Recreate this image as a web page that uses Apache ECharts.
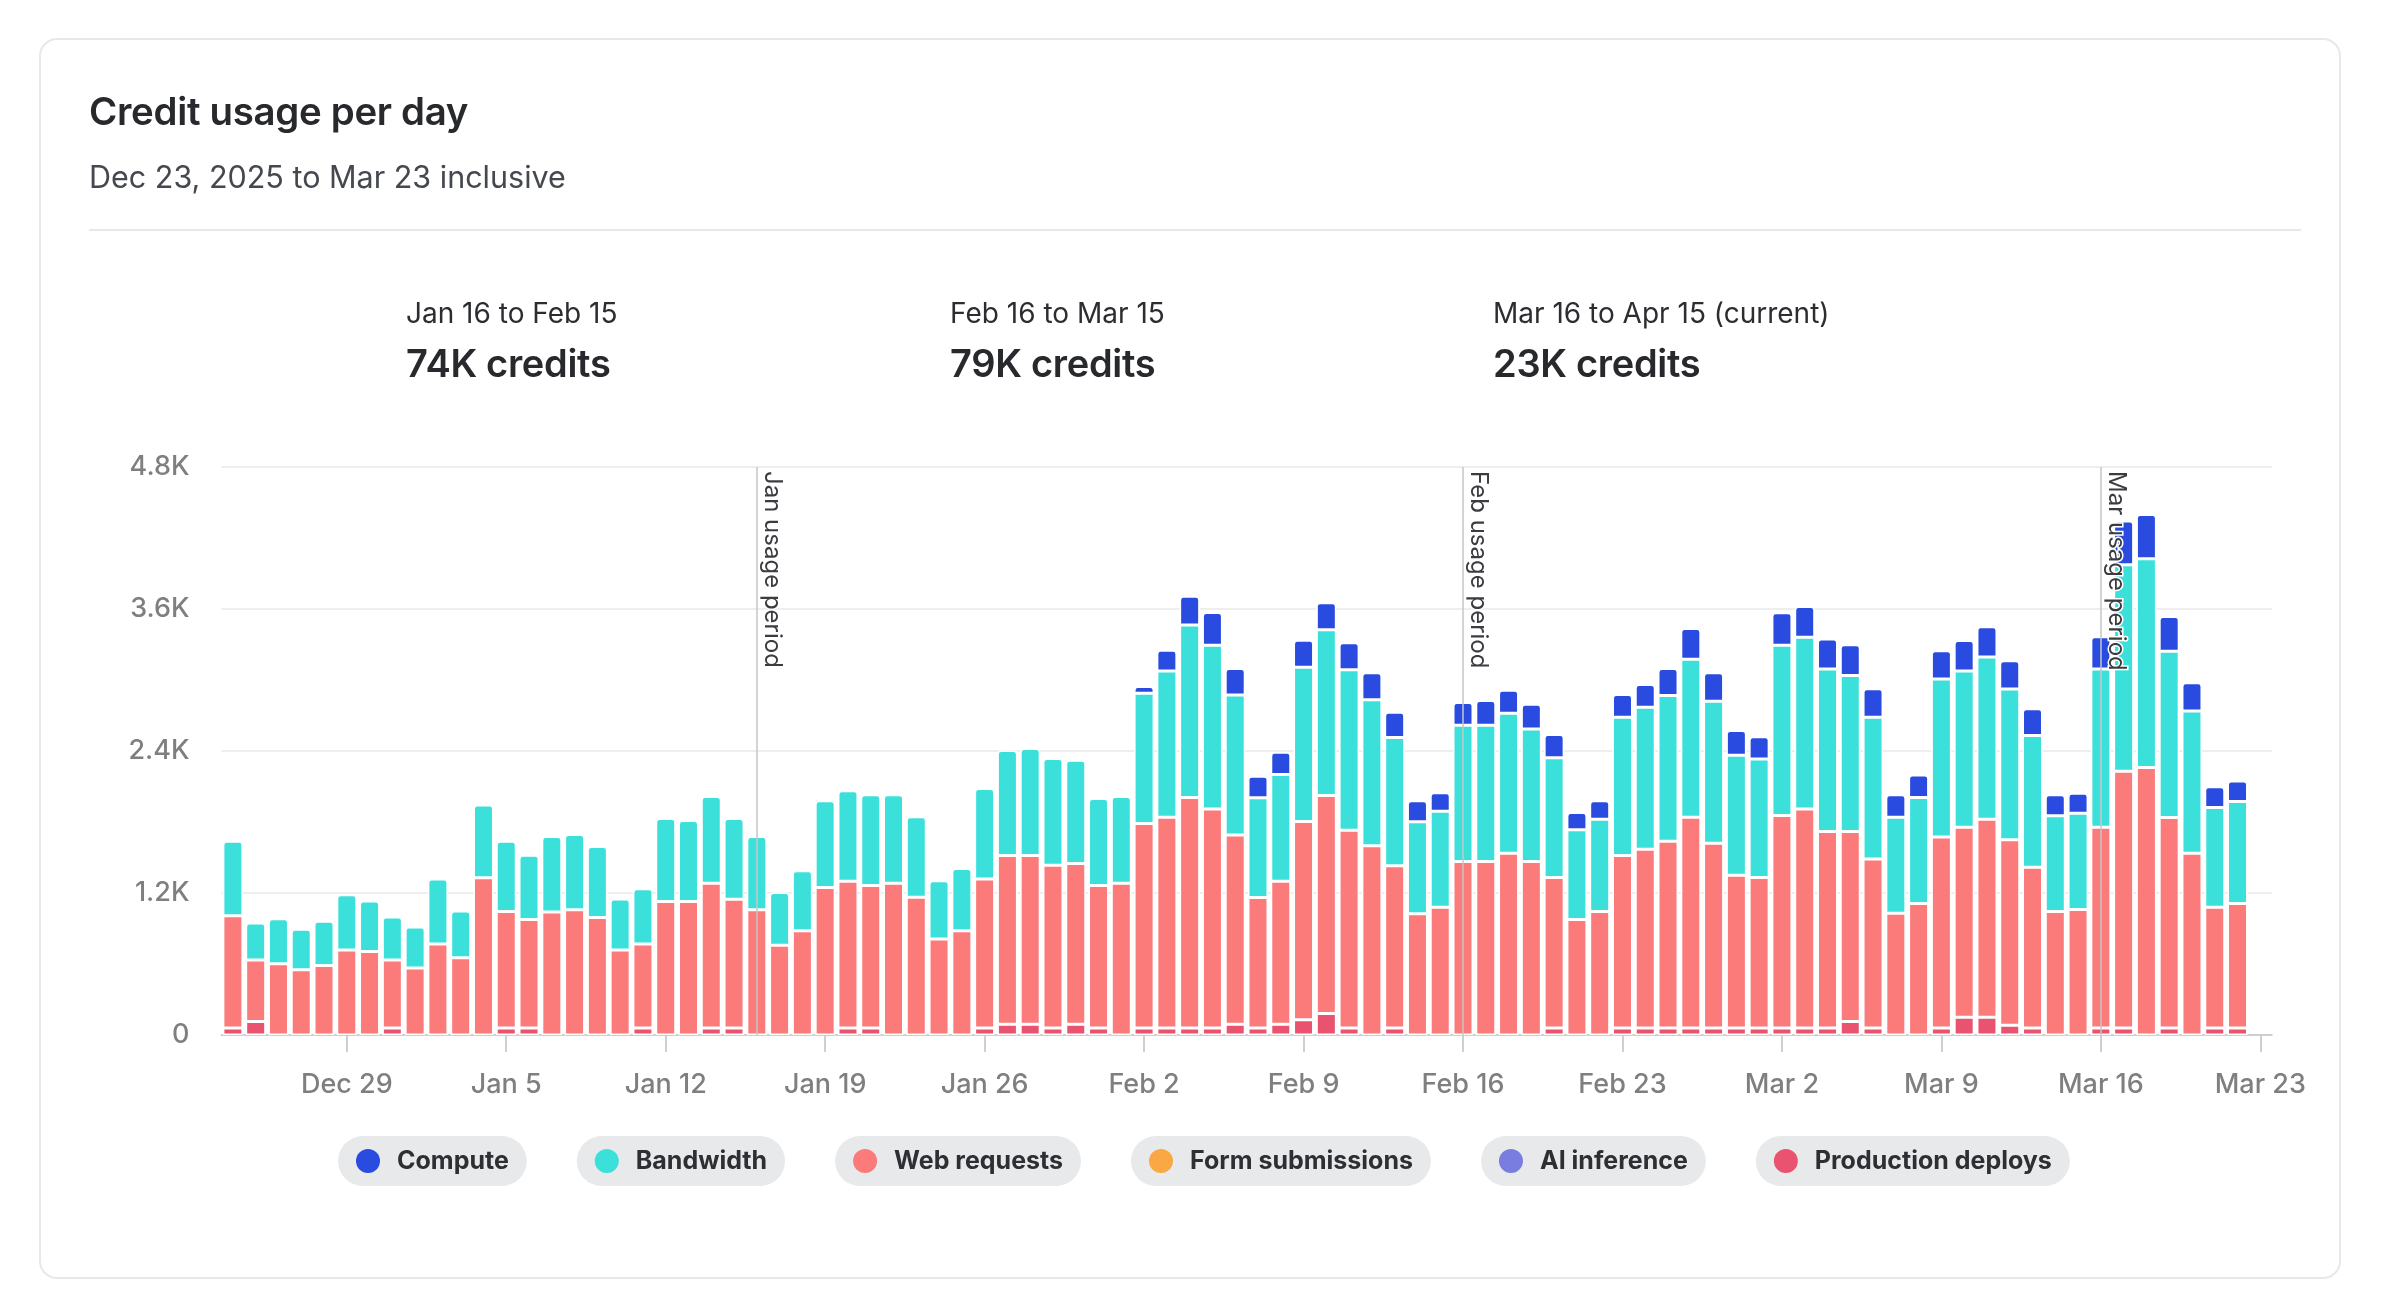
<!DOCTYPE html>
<html>
<head>
<meta charset="utf-8">
<script src="https://cdn.jsdelivr.net/npm/echarts@6/dist/echarts.min.js"></script>
<style>
html,body{margin:0;padding:0;background:#fff;}
body{width:2388px;height:1316px;position:relative;overflow:hidden;font-family:Inter,'Noto Sans',sans-serif;}
.card{position:absolute;left:39px;top:38px;width:2298px;height:1237px;border:2px solid #e8e8e8;border-radius:18px;}
.t{position:absolute;white-space:nowrap;line-height:1;z-index:3;}
#title{left:89px;top:92px;font-size:38.4px;font-weight:600;color:#27292d;letter-spacing:-0.3px;}
#sub{left:89px;top:162px;font-size:30.5px;font-weight:400;color:#45494f;}
#divider{position:absolute;left:89px;top:229px;width:2212px;height:2px;background:#e8e8e8;}
.plabel{font-size:28px;font-weight:400;color:#2b2d31;top:299px;}
.pval{font-size:38px;font-weight:600;color:#27292d;top:344px;letter-spacing:-0.3px;}
#chart{position:absolute;left:0;top:0;width:2388px;height:1316px;z-index:2;}
</style>
</head>
<body>
<div class="card"></div>
<div id="title" class="t">Credit usage per day</div>
<div id="sub" class="t">Dec 23, 2025 to Mar 23 inclusive</div>
<div id="divider"></div>
<div class="t plabel" style="left:406px">Jan 16 to Feb 15</div>
<div class="t pval" style="left:406px">74K credits</div>
<div class="t plabel" style="left:950px">Feb 16 to Mar 15</div>
<div class="t pval" style="left:950px">79K credits</div>
<div class="t plabel" style="left:1493px">Mar 16 to Apr 15 (current)</div>
<div class="t pval" style="left:1493px">23K credits</div>
<div id="chart"></div>
<script>
// ---- data ----
const categories = [
 'Dec 24','Dec 25','Dec 26','Dec 27','Dec 28','Dec 29','Dec 30','Dec 31',
 'Jan 1','Jan 2','Jan 3','Jan 4','Jan 5','Jan 6','Jan 7','Jan 8','Jan 9','Jan 10','Jan 11','Jan 12','Jan 13','Jan 14','Jan 15','Jan 16','Jan 17','Jan 18','Jan 19','Jan 20','Jan 21','Jan 22','Jan 23','Jan 24','Jan 25','Jan 26','Jan 27','Jan 28','Jan 29','Jan 30','Jan 31',
 'Feb 1','Feb 2','Feb 3','Feb 4','Feb 5','Feb 6','Feb 7','Feb 8','Feb 9','Feb 10','Feb 11','Feb 12','Feb 13','Feb 14','Feb 15','Feb 16','Feb 17','Feb 18','Feb 19','Feb 20','Feb 21','Feb 22','Feb 23','Feb 24','Feb 25','Feb 26','Feb 27','Feb 28',
 'Mar 1','Mar 2','Mar 3','Mar 4','Mar 5','Mar 6','Mar 7','Mar 8','Mar 9','Mar 10','Mar 11','Mar 12','Mar 13','Mar 14','Mar 15','Mar 16','Mar 17','Mar 18','Mar 19','Mar 20','Mar 21','Mar 22','Mar 23'
];
const xTickLabels = ['Dec 29','Jan 5','Jan 12','Jan 19','Jan 26','Feb 2','Feb 9','Feb 16','Feb 23','Mar 2','Mar 9','Mar 16','Mar 23'];
const yTickLabels = ['0','1.2K','2.4K','3.6K','4.8K'];

const prodDeploys = [
 60,115,0,0,0,0,0,60,0,0,
 0,0,60,60,0,0,0,0,60,0,
 0,60,60,0,0,0,0,60,60,0,
 0,0,0,60,90,90,60,90,60,0,
 60,60,60,60,90,60,90,128,182,60,
 0,60,0,0,0,0,0,0,60,0,
 0,60,60,60,60,60,60,60,60,60,
 60,115,60,0,0,60,150,150,82,60,
 0,0,60,60,0,60,0,60,60
];
const webRequests = [
 948,519,602,552,588,719,705,574,566,769,
 652,1328,983,916,1040,1058,993,719,709,1129,
 1129,1222,1087,1058,758,880,1246,1240,1204,1282,
 1164,812,880,1258,1427,1427,1375,1359,1204,1282,
 1728,1781,1948,1849,1601,1101,1210,1677,1841,1671,
 1599,1371,1025,1079,1467,1467,1535,1467,1272,976,
 1043,1457,1510,1578,1781,1560,1290,1272,1795,1849,
 1660,1605,1428,1029,1111,1614,1605,1673,1567,1357,
 1043,1061,1695,2169,2261,1777,1535,1019,1051
];
const bandwidth = [
 630,313,381,342,373,467,427,363,346,549,
 395,616,595,544,637,637,599,431,467,701,
 683,733,683,619,446,509,734,765,766,748,
 681,491,527,765,887,904,901,873,734,733,
 1100,1236,1457,1385,1183,844,901,1302,1402,1356,
 1235,1083,777,812,1150,1150,1185,1118,1011,758,
 780,1168,1200,1232,1335,1200,1014,1000,1439,1452,
 1374,1317,1197,812,897,1335,1322,1371,1274,1115,
 809,812,1339,1745,1763,1407,1203,844,862
];
const compute = [
 0,0,0,0,0,0,0,0,0,0,
 0,0,0,0,0,0,0,0,0,0,
 0,0,0,0,0,0,0,0,0,0,
 0,0,0,0,0,0,0,0,0,0,
 57,174,242,277,224,181,188,228,228,228,
 228,214,178,156,192,210,193,210,196,146,
 157,192,193,228,260,242,210,189,274,260,
 253,260,242,189,189,238,256,256,239,224,
 178,171,271,370,374,292,239,174,174
];
const formSubmissions = [];
const aiInference = [];

const periodLines = [
 {date:'Jan 16', label:'Jan usage period'},
 {date:'Feb 16', label:'Feb usage period'},
 {date:'Mar 16', label:'Mar usage period'}
];

const legendOrder = ['Compute','Bandwidth','Web requests','Form submissions','AI inference','Production deploys'];
const colors = {
 'Compute':'#2a4be0',
 'Bandwidth':'#3ce0db',
 'Web requests':'#fb7a7a',
 'Form submissions':'#f9a844',
 'AI inference':'#7a7de0',
 'Production deploys':'#e9536f'
};

// stack order bottom -> top
const stackDefs = [
 {name:'Production deploys', data:prodDeploys},
 {name:'Web requests', data:webRequests},
 {name:'Form submissions', data:formSubmissions},
 {name:'AI inference', data:aiInference},
 {name:'Bandwidth', data:bandwidth},
 {name:'Compute', data:compute}
];

// find top segment of each bar to round its corners
const topSeries = [];
for (let i = 0; i < categories.length; i++) {
  let top = -1;
  stackDefs.forEach((s, k) => { if (s.data[i] > 0) top = k; });
  topSeries.push(top);
}

const series = stackDefs.map((s, k) => {
  const data = s.data.map((v, i) => {
    if (!v) return '-';
    if (topSeries[i] === k) return {value: v, itemStyle: {borderRadius: [3,3,0,0]}};
    return v;
  });
  const ser = {
    name: s.name,
    type: 'bar',
    stack: 'credits',
    barWidth: 20,
    data: data,
    itemStyle: {color: colors[s.name], borderColor: '#ffffff', borderWidth: 1.5},
    emphasis: {disabled: true}
  };
  if (s.name === 'Compute') {
    ser.markLine = {
      symbol: ['none','none'],
      silent: true,
      animation: false,
      lineStyle: {color: '#c6c6c6', width: 1.5, type: 'solid'},
      label: {
        show: true, position: 'insideStartTop', formatter: '{b}', distance: [4, 3],
        fontSize: 24, fontFamily: 'Inter', color: '#3a3c40',
        textBorderColor: '#ffffff', textBorderWidth: 3
      },
      data: periodLines.map(p => [{name: p.label, coord: [p.date, 4800]}, {coord: [p.date, 0]}])
    };
  }
  return ser;
});

const rich = {t: {fontSize: 25, fontWeight: 700, color: '#2d2f33', fontFamily: 'Inter', padding: [0,0,0,17], lineHeight: 26}};
legendOrder.forEach((n, i) => {
  rich['d' + i] = {width: 24, height: 24, borderRadius: 12, backgroundColor: colors[n]};
});

const tickIdx = i => xTickLabels.indexOf(categories[i]) >= 0;

const chart = echarts.init(document.getElementById('chart'), null, {renderer: 'canvas'});
chart.setOption({
  animation: false,
  textStyle: {fontFamily: 'Inter'},
  grid: {left: 221.5, right: 116.3, top: 467, bottom: 281, containLabel: false},
  legend: {
    data: legendOrder,
    left: 327, top: 1131,
    itemWidth: 0, itemHeight: 0, itemGap: 44,
    selectedMode: false,
    formatter: name => '{d' + legendOrder.indexOf(name) + '|}{t|' + name + '}',
    textStyle: {backgroundColor: '#e8e9eb', borderRadius: 25, padding: [12,18,12,18], lineHeight: 26, rich: rich}
  },
  xAxis: {
    type: 'category',
    data: categories,
    boundaryGap: true,
    axisLine: {lineStyle: {color: '#cfcfcf', width: 2}},
    axisTick: {show: true, alignWithLabel: true, interval: i => tickIdx(i), length: 17, lineStyle: {color: '#cfcfcf', width: 2}},
    axisLabel: {interval: i => tickIdx(i), margin: 36, fontSize: 27, fontWeight: 500, color: '#7f7f7f', fontFamily: 'Inter'},
    splitLine: {show: false}
  },
  yAxis: {
    type: 'value', min: 0, max: 4800, interval: 1200,
    axisLine: {show: false}, axisTick: {show: false},
    axisLabel: {margin: 32, fontSize: 27, fontWeight: 500, color: '#7f7f7f', fontFamily: 'Inter',
      formatter: (v, i) => yTickLabels[Math.round(v / 1200)]},
    splitLine: {lineStyle: {color: '#e8e8e8', width: 1.5}}
  },
  series: series
});
</script>
</body>
</html>
